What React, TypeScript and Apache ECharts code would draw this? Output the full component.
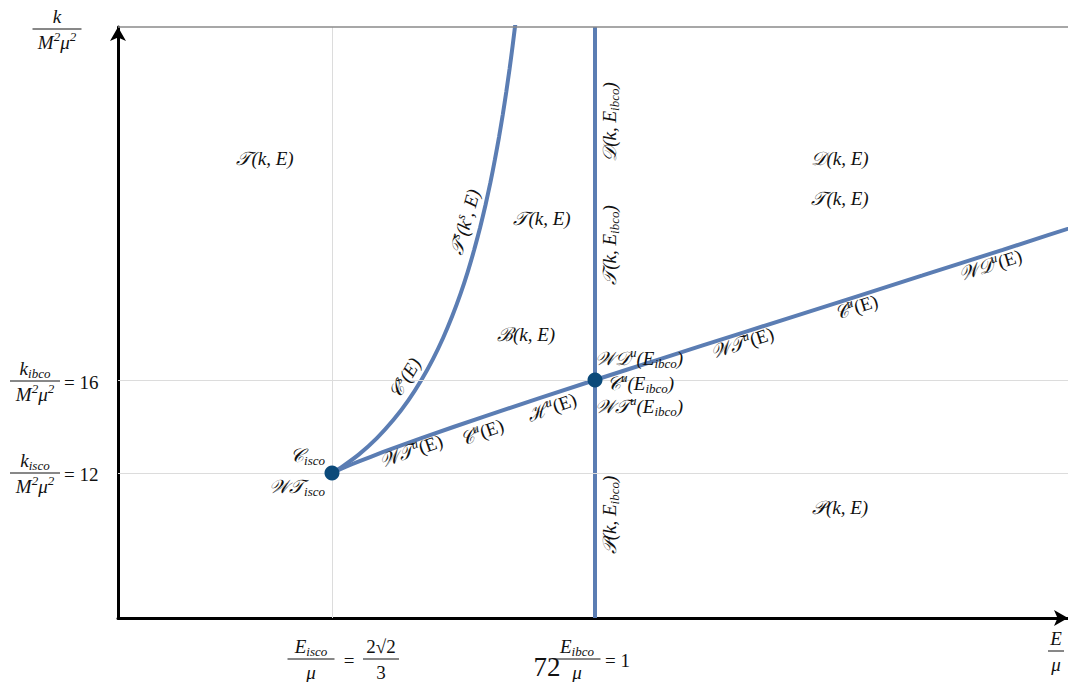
import React, { useEffect, useRef } from "react";
import * as echarts from "echarts";

// Characteristic energies / angular momenta (units of mu and M^2 mu^2)
const E_ISCO = 0.942809; // 2*sqrt(2)/3
const E_IBCO = 1;
const K_ISCO = 12;
const K_IBCO = 16;

// Visible window of the (E/mu, k/M^2mu^2) plane
const X_MIN = 0.89628;
const X_MAX = 1.10285;
const Y_MIN = 5.763;
const Y_MAX = 31.183;

// Stable circular-orbit branch (r >= r_isco)
const stableE = [
  0.942809, 0.942841, 0.942928, 0.943063, 0.94346, 0.94491, 0.94868, 0.95258, 0.95618, 0.95941,
  0.96225, 0.96476, 0.96699, 0.96896, 0.97073, 0.97231, 0.97373, 0.97502, 0.97619, 0.97726,
  0.97823, 0.97913, 0.97996, 0.98072, 0.98143, 0.98209, 0.982708,
];
const stableK = [
  12, 12.0032, 12.0125, 12.027, 12.071, 12.25, 12.8, 13.5, 14.286, 15.125,
  16, 16.9, 17.818, 18.75, 19.692, 20.643, 21.6, 22.5625, 23.529, 24.5,
  25.474, 26.45, 27.429, 28.409, 29.391, 30.375, 31.36,
];

// Unstable circular-orbit branch (r_ph < r <= r_isco)
const unstableE = [
  0.942809, 0.943042, 0.94388, 0.94561, 0.94868, 0.95382, 0.96225, 0.97618, 1.0,
  1.01414, 1.03237, 1.05633, 1.07123, 1.08866, 1.10927,
];
const unstableK = [
  12, 12.0227, 12.1, 12.25, 12.5, 12.893, 13.5, 14.45, 16,
  16.9, 18.05, 19.557, 20.496, 21.6, 22.914,
];

const LINE_BLUE = "#5b7db3";
const DOT_BLUE = "#0b4a7a";
const FONT = "'Liberation Serif', 'DejaVu Serif', serif";

// tiny markup: ^{..} superscript, _{..} subscript, ~{..} upright text
function toRich(src: string): string {
  let out = "";
  let buf = "";
  let i = 0;
  const flush = () => {
    if (buf) {
      out += `{m|${buf}}`;
      buf = "";
    }
  };
  while (i < src.length) {
    const c = src[i];
    if ((c === "^" || c === "_" || c === "~") && src[i + 1] === "{") {
      flush();
      const end = src.indexOf("}", i);
      const key = c === "^" ? "sup" : c === "_" ? "sub" : "r";
      out += `{${key}|${src.slice(i + 2, end)}}`;
      i = end + 1;
    } else {
      buf += c;
      i++;
    }
  }
  flush();
  return out;
}

const richStyles = {
  m: { fontFamily: FONT, fontStyle: "italic", fontSize: 19, lineHeight: 24, fill: "#111" },
  r: { fontFamily: FONT, fontStyle: "normal", fontSize: 19, lineHeight: 24, fill: "#111" },
  sup: { fontFamily: FONT, fontStyle: "italic", fontSize: 13, lineHeight: 13, verticalAlign: "top", fill: "#111" },
  sub: { fontFamily: FONT, fontStyle: "italic", fontSize: 13, lineHeight: 13, verticalAlign: "bottom", fill: "#111" },
};

function label(
  src: string,
  x: number,
  y: number,
  opts: { rotation?: number; align?: string } = {}
) {
  return {
    type: "text",
    x,
    y,
    rotation: opts.rotation ?? 0,
    silent: true,
    z: 20,
    style: {
      text: toRich(src),
      rich: richStyles,
      align: opts.align ?? "center",
      verticalAlign: "middle",
    },
  };
}

function plain(text: string, x: number, y: number, size = 19, align = "left") {
  return {
    type: "text",
    x,
    y,
    silent: true,
    z: 20,
    style: { text, fontFamily: FONT, fontSize: size, fill: "#111", align, verticalAlign: "middle" },
  };
}

function frac(num: string, den: string, cx: number, cy: number, w: number) {
  return [
    {
      type: "text",
      x: cx,
      y: cy - 1,
      silent: true,
      z: 20,
      style: { text: toRich(num), rich: richStyles, align: "center", verticalAlign: "bottom" },
    },
    {
      type: "line",
      silent: true,
      z: 20,
      shape: { x1: cx - w / 2, y1: cy, x2: cx + w / 2, y2: cy },
      style: { stroke: "#111", lineWidth: 1 },
    },
    {
      type: "text",
      x: cx,
      y: cy + 1,
      silent: true,
      z: 20,
      style: { text: toRich(den), rich: richStyles, align: "center", verticalAlign: "top" },
    },
  ];
}

const A_LOW = Math.atan(93 / 263);
const A_MID = Math.atan(0.327);
const A_HIGH = Math.atan(0.313);
const UP = Math.PI / 2;

export default function App() {
  const ref = useRef<HTMLDivElement>(null);

  useEffect(() => {
    if (!ref.current) return;
    const chart = echarts.init(ref.current, null, { renderer: "svg" });

    const stable = stableE.map((e, i) => [e, stableK[i]]);
    const unstable = unstableE.map((e, i) => [e, unstableK[i]]);

    const graphics: any[] = [
      // axis titles and tick annotations
      ...frac("k", "M^{2}μ^{2}", 57, 29, 49),
      ...frac("k_{ibco}", "M^{2}μ^{2}", 35, 381, 50),
      plain("= 16", 64, 382),
      ...frac("k_{isco}", "M^{2}μ^{2}", 35, 473, 50),
      plain("= 12", 64, 474),
      ...frac("E_{isco}", "μ", 311, 659, 47),
      plain("=", 349, 660, 19, "center"),
      ...frac("~{2√2}", "~{3}", 381, 659, 36),
      ...frac("E_{ibco}", "μ", 577, 659, 47),
      plain("= 1", 605, 660),
      ...frac("E", "μ", 1056, 651, 16),
      plain("72", 547, 667, 27, "center"),

      // region labels
      label("𝒯(k, E)", 265, 158),
      label("𝒟(k, E)", 840, 158),
      label("𝒯(k, E)", 840, 198),
      label("𝒯(k, E)", 542, 218),
      label("ℬ(k, E)", 526, 334),
      label("𝒫(k, E)", 840, 507),

      // special points
      label("𝒞_{isco}", 325, 455, { align: "right" }),
      label("𝒲𝒯_{isco}", 325, 486, { align: "right" }),
      label("𝒲𝒟^{u}(E_{ibco})", 595, 358, { align: "left" }),
      label("𝒞^{u}(E_{ibco})", 607, 383, { align: "left" }),
      label("𝒲𝒯^{u}(E_{ibco})", 595, 406, { align: "left" }),

      // along the unstable branch
      label("𝒲𝒯^{u}~{(E)}", 411, 451, { rotation: A_LOW }),
      label("𝒞^{u}~{(E)}", 482, 432, { rotation: A_LOW }),
      label("ℋ^{u}~{(E)}", 552, 407, { rotation: A_LOW }),
      label("𝒲𝒯^{u}~{(E)}", 742, 343, { rotation: A_MID }),
      label("𝒞^{u}~{(E)}", 856, 307, { rotation: A_HIGH }),
      label("𝒲𝒟^{u}~{(E)}", 990, 265, { rotation: A_HIGH }),

      // along E = E_ibco
      label("𝒟(k, E_{ibco})", 609, 122, { rotation: UP }),
      label("𝒯(k, E_{ibco})", 609, 245, { rotation: UP }),
      label("𝒫(k, E_{ibco})", 609, 515, { rotation: UP }),

      // along the stable branch
      label("𝒞^{s}(E)", 405, 378, { rotation: 1.03 }),
      label("𝒯^{s}(k^{s}, E)", 465, 222, { rotation: 1.3 }),
    ];

    const grid = (v: any) => ({ ...v, lineStyle: { color: "#dcdcdc", width: 1, type: "solid" } });

    chart.setOption({
      animation: false,
      grid: { left: 118, top: 27, right: 0, bottom: 64, containLabel: false },
      xAxis: {
        type: "value",
        min: X_MIN,
        max: X_MAX,
        axisLine: {
          show: true,
          onZero: false,
          symbol: ["none", "arrow"],
          symbolSize: [12, 14],
          lineStyle: { color: "#000", width: 3 },
        },
        axisTick: { show: false },
        axisLabel: { show: false },
        splitLine: { show: false },
      },
      yAxis: {
        type: "value",
        min: Y_MIN,
        max: Y_MAX,
        axisLine: {
          show: true,
          onZero: false,
          symbol: ["none", "arrow"],
          symbolSize: [12, 14],
          lineStyle: { color: "#000", width: 3 },
        },
        axisTick: { show: false },
        axisLabel: { show: false },
        splitLine: { show: false },
      },
      series: [
        {
          type: "line",
          data: [],
          silent: true,
          z: 1,
          markLine: {
            silent: true,
            symbol: "none",
            precision: 6,
            label: { show: false },
            animation: false,
            data: [
              grid({ xAxis: E_ISCO }),
              grid({ yAxis: K_ISCO }),
              grid({ yAxis: K_IBCO }),
              { yAxis: Y_MAX, lineStyle: { color: "#8a8a8a", width: 1.5, type: "solid" } },
            ],
          },
        },
        {
          name: "E = E_ibco",
          type: "line",
          data: [
            [E_IBCO, Y_MIN],
            [E_IBCO, Y_MAX],
          ],
          symbol: "none",
          lineStyle: { color: LINE_BLUE, width: 4 },
          z: 3,
        },
        {
          name: "stable",
          type: "line",
          data: stable,
          symbol: "none",
          smooth: 0.2,
          clip: true,
          lineStyle: { color: LINE_BLUE, width: 4 },
          z: 3,
        },
        {
          name: "unstable",
          type: "line",
          data: unstable,
          symbol: "none",
          smooth: 0.2,
          clip: true,
          lineStyle: { color: LINE_BLUE, width: 4 },
          z: 3,
        },
        {
          name: "marginal orbits",
          type: "scatter",
          data: [
            [E_ISCO, K_ISCO],
            [E_IBCO, K_IBCO],
          ],
          symbolSize: 15,
          itemStyle: { color: DOT_BLUE, opacity: 1 },
          z: 5,
        },
      ],
      graphic: graphics,
    });

    return () => chart.dispose();
  }, []);

  return (
    <div
      ref={ref}
      style={{ position: "fixed", left: 0, top: 0, width: 1068, height: 682, background: "#fff" }}
    />
  );
}
